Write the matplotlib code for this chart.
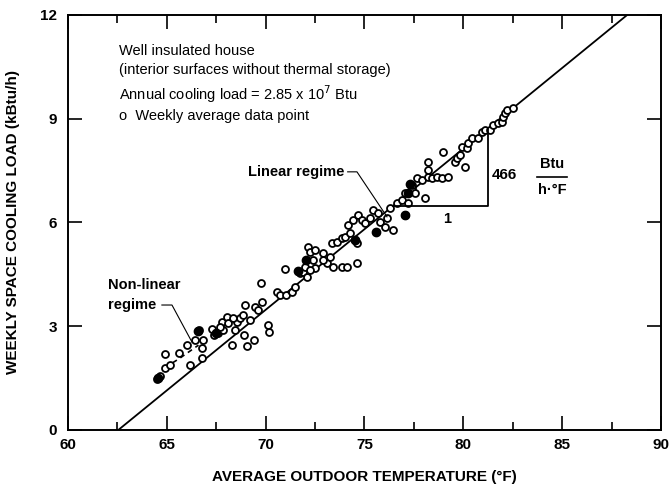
import matplotlib
matplotlib.use("Agg")
import matplotlib.pyplot as plt

plt.rcParams["font.family"] = ["Liberation Sans", "DejaVu Sans"]

# weekly average data points
temp = [64.50, 64.65, 64.91, 65.16, 64.91, 65.61, 66.02, 66.17, 66.78, 66.78,
        66.42, 66.63, 66.83, 67.28, 67.38, 67.59, 67.84, 67.79, 68.04, 68.09,
        68.45, 68.55, 68.70, 68.85, 68.95, 69.21, 68.30, 69.05, 69.41, 70.17,
        70.12, 68.90, 67.69, 68.35, 69.46, 69.61, 69.81, 69.76, 70.57, 70.72,
        71.03, 71.33, 71.48, 71.74, 71.89, 72.09, 70.98, 72.14, 72.24, 72.49,
        72.39, 72.49, 72.90, 73.10, 71.99, 72.24, 72.90, 73.25, 73.40, 73.86,
        74.11, 74.62, 73.35, 73.61, 73.86, 74.01, 74.26, 74.52, 74.62, 74.16,
        74.42, 74.67, 74.87, 75.02, 75.28, 75.43, 75.68, 75.78, 76.14, 76.44,
        76.03, 76.29, 76.64, 76.89, 77.05, 77.40, 77.55, 77.20, 77.05, 77.40,
        77.65, 77.91, 78.21, 78.41, 78.66, 78.92, 78.21, 78.21, 78.97, 79.58,
        79.68, 79.83, 80.08, 79.93, 80.18, 80.23, 80.44, 80.74, 80.94, 81.09,
        81.35, 81.50, 81.75, 81.95, 82.00, 82.10, 82.21, 82.51, 79.22, 78.06]
load = [1.47, 1.56, 1.79, 1.88, 2.20, 2.23, 2.46, 1.88, 2.08, 2.37,
        2.60, 2.89, 2.60, 2.92, 2.75, 2.80, 2.89, 3.12, 3.27, 3.09,
        2.89, 3.12, 3.24, 3.32, 3.61, 3.18, 2.46, 2.43, 2.60, 2.83,
        3.03, 2.75, 2.98, 3.24, 3.55, 3.47, 3.70, 4.25, 3.99, 3.90,
        3.90, 3.99, 4.13, 4.54, 4.57, 4.42, 4.65, 5.29, 5.14, 5.20,
        4.91, 4.68, 5.12, 4.83, 4.71, 4.62, 4.91, 5.00, 4.71, 4.71,
        4.71, 4.83, 5.40, 5.43, 5.55, 5.58, 5.69, 5.49, 5.40, 5.92,
        6.07, 6.21, 6.07, 5.98, 6.13, 6.36, 6.27, 6.01, 6.13, 5.78,
        5.87, 6.42, 6.56, 6.65, 6.85, 6.99, 6.85, 6.56, 6.21, 7.08,
        7.28, 7.23, 7.31, 7.28, 7.31, 7.28, 7.51, 7.75, 8.03, 7.75,
        7.86, 7.95, 7.60, 8.18, 8.15, 8.29, 8.44, 8.44, 8.61, 8.67,
        8.67, 8.82, 8.87, 8.90, 9.05, 9.16, 9.25, 9.31, 7.31, 6.71]

# overlapping (dark) points
dense_temp = [64.55, 66.60, 67.50, 71.65, 72.05, 74.50, 75.60, 77.20, 77.30, 77.05]
dense_load = [1.50, 2.85, 2.80, 4.60, 4.91, 5.50, 5.72, 6.85, 7.10, 6.21]

# linear regime: 466 Btu/h per degF, zero load at 62.55 degF
slope = 0.466
t_zero = 62.55
line_t = [t_zero, 88.3]
line_q = [0.0, slope * (88.3 - t_zero)]

# non-linear regime (dashed)
nl_t = [64.9, 65.6, 66.6]
nl_q = [1.80, 2.05, 2.45]

fig = plt.figure(figsize=(6.7, 4.93), dpi=100)
ax = fig.add_axes([0.1015, 0.128, 0.885, 0.842])

ax.plot(line_t, line_q, color="black", lw=1.3)
ax.plot(nl_t, nl_q, color="black", lw=1.2, ls=(0, (3, 2.5)))
ax.plot(temp, load, "o", ms=5, mfc="white", mec="black", mew=1.3)
ax.plot(dense_temp, dense_load, "o", ms=6, mfc="black", mec="black")

# slope triangle
x1 = t_zero + 6.47 / slope
x2 = 81.24
ax.plot([x1, x2, x2], [6.47, 6.47, slope * (x2 - t_zero)], color="black", lw=1.3)
ax.text(79.2, 6.1, "1", fontsize=10.5, fontweight="bold", ha="center", va="center")
ax.text(81.45, 7.37, "466", fontsize=11, fontweight="bold", ha="left", va="center")
ax.text(84.5, 7.68, "Btu", fontsize=10.5, fontweight="bold", ha="center", va="center")
ax.plot([83.75, 85.25], [7.31, 7.31], color="black", lw=1.2)
ax.text(84.5, 6.93, "h·°F", fontsize=10.5, fontweight="bold", ha="center", va="center")

# annotations
ax.text(62.58, 10.95, "Well insulated house", fontsize=10.5, va="center")
ax.text(62.58, 10.40, "(interior surfaces without thermal storage)", fontsize=10.5, va="center")
ax.text(62.58, 9.70, "Annual cooling load = 2.85 x 10$^7$ Btu", fontsize=10.5, va="center")
ax.text(62.58, 9.08, "o  Weekly average data point", fontsize=10.5, va="center")

ax.text(74.0, 7.45, "Linear regime", fontsize=10.5, fontweight="bold", ha="right", va="center")
ax.plot([74.15, 74.62, 76.14], [7.46, 7.46, 6.16], color="black", lw=0.8)
ax.text(62.02, 4.19, "Non-linear", fontsize=10.5, fontweight="bold", ha="left", va="center")
ax.text(62.02, 3.61, "regime", fontsize=10.5, fontweight="bold", ha="left", va="center")
ax.plot([64.75, 65.26, 66.27], [3.61, 3.61, 2.54], color="black", lw=0.8)

ax.set_xlim(60, 90)
ax.set_ylim(0, 12)
ax.set_xticks([60, 65, 70, 75, 80, 85, 90])
ax.set_xticks([62.5, 67.5, 72.5, 77.5, 82.5, 87.5], minor=True)
ax.set_yticks([0, 3, 6, 9, 12])
ax.tick_params(which="both", direction="in", top=True, right=True, width=1.2,
               labelsize=11, pad=6)
ax.tick_params(axis="y", pad=8)
ax.tick_params(which="major", length=10)
ax.tick_params(which="minor", length=6)
for lab in ax.get_xticklabels() + ax.get_yticklabels():
    lab.set_fontweight("bold")
for s in ax.spines.values():
    s.set_linewidth(1.4)

ax.set_xlabel("AVERAGE OUTDOOR TEMPERATURE (°F)", fontsize=11, fontweight="bold", labelpad=13)
ax.set_ylabel("WEEKLY SPACE COOLING LOAD (kBtu/h)", fontsize=11, fontweight="bold", labelpad=14)

fig.savefig("out.png", dpi=100)
